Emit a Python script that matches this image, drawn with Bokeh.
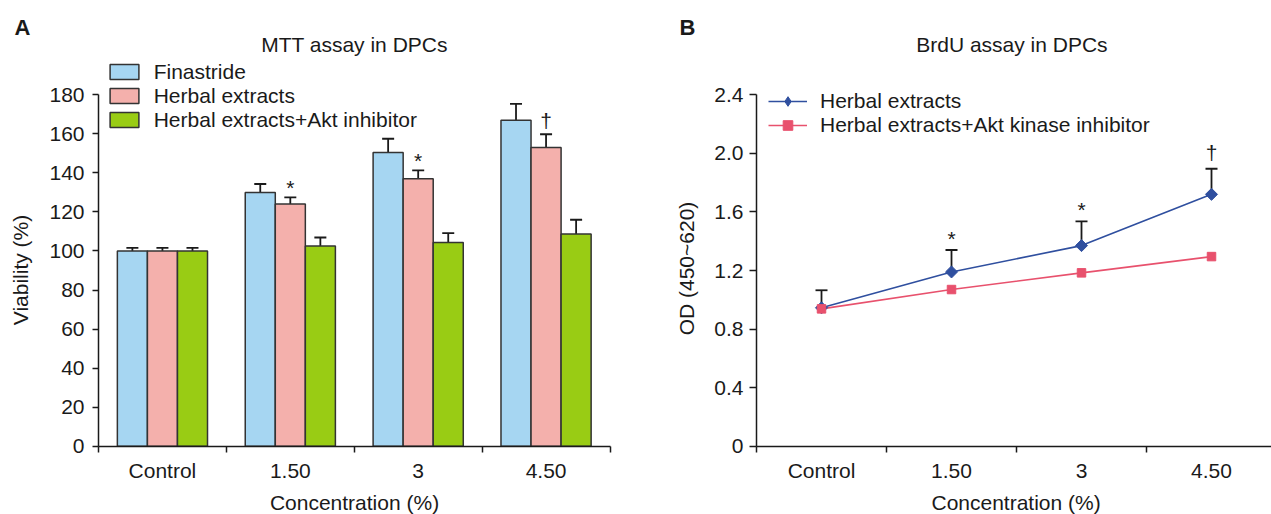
import numpy as np
from bokeh.plotting import figure
from bokeh.models import Range1d, FixedTicker, Label, Legend, LegendItem
from bokeh.layouts import row
from bokeh.embed import file_html
from bokeh.resources import INLINE
from bokeh.core.properties import value

# ---------------- data ----------------
categories = ["Control", "1.50", "3", "4.50"]

finastride = [100, 130, 150.5, 167]
finastride_err = [1.6, 4.3, 7.0, 8.4]
herbal = [100, 124, 137, 153]
herbal_err = [1.6, 3.5, 4.3, 6.8]
akt_inhibitor = [100, 102.6, 104.3, 108.7]
akt_inhibitor_err = [1.6, 4.3, 4.8, 7.3]
mtt_marks = ["", "*", "*", "\u2020"]
mtt_ticks = [0, 20, 40, 60, 80, 100, 120, 140, 160, 180]

brdu_herbal = [0.945, 1.19, 1.37, 1.72]
brdu_herbal_err = [0.12, 0.15, 0.165, 0.175]
brdu_akt = [0.938, 1.07, 1.184, 1.295]
brdu_marks = ["", "*", "*", "\u2020"]
od_ticks = [0, 0.4, 0.8, 1.2, 1.6, 2.0, 2.4]
od_tick_labels = ["0", "0.4", "0.8", "1.2", "1.6", "2.0", "2.4"]

# ---------------- style / layout (pixels) ----------------
FONT = "Liberation Sans"
FS = "21px"
INK = "#1a1a1a"
C_FIN = "#a6d6f2"
C_HERB = "#f4b0ac"
C_AKT = "#99cc14"
C_BLUE = "#2f4f9f"
C_RED = "#e8516d"

H = 514
WA, WB = 640, 631
Y0_PX, YTOP_PX = 445.7, 94.3          # pixel rows of axis bottom / top tick
A_X0, A_X4 = 98.0, 609.5              # pixel columns of category bounds 0 and 4 (panel A)
B_X0, B_STEP = 116.0, 130.0           # panel B (canvas-relative)

n = len(categories)
centers = [i + 0.5 for i in range(n)]
bounds = list(range(n + 1))


def make_fig(width, x0_px, step_px, ytop_val):
    sy = (Y0_PX - YTOP_PX) / ytop_val
    xr = Range1d(-x0_px / step_px, (width - x0_px) / step_px)
    yr = Range1d(-(H - Y0_PX) / sy, Y0_PX / sy)
    p = figure(width=width, height=H, x_range=xr, y_range=yr,
               output_backend="svg", toolbar_location=None,
               outline_line_color=None, min_border=0)
    p.xgrid.visible = False
    p.ygrid.visible = False
    fx = lambda px: (px - x0_px) / step_px
    fy = lambda py: (Y0_PX - py) / sy
    return p, fx, fy


def style_axes(p, yticks, ytop, xend, ytick_standoff, ytick_out):
    for ax in p.axis:
        ax.axis_line_color = INK
        ax.axis_line_width = 1.5
        ax.major_tick_line_color = INK
        ax.major_tick_line_width = 1.5
        ax.minor_tick_line_color = INK
        ax.minor_tick_line_width = 1.5
        ax.major_label_text_font = FONT
        ax.major_label_text_font_size = FS
        ax.major_label_text_color = INK
    xa = p.xaxis[0]
    xa.fixed_location = 0
    xa.bounds = (0, xend)
    xa.ticker = FixedTicker(ticks=centers, minor_ticks=bounds)
    xa.major_label_overrides = {c: lab for c, lab in zip(centers, categories)}
    xa.major_tick_out = 0
    xa.major_tick_in = 0
    xa.minor_tick_out = 6
    xa.minor_tick_in = 0
    xa.major_label_standoff = 7
    ya = p.yaxis[0]
    ya.fixed_location = 0
    ya.bounds = (0, ytop)
    ya.ticker = FixedTicker(ticks=yticks)
    ya.major_tick_out = ytick_out
    ya.major_tick_in = 0
    ya.minor_tick_out = 0
    ya.minor_tick_in = 0
    ya.major_label_standoff = ytick_standoff


def add_label(p, x, y, text, align="center", size=FS, style="normal", angle=0.0):
    p.add_layout(Label(x=x, y=y, text=text, text_align=align, text_baseline="middle",
                       text_font=FONT, text_font_size=size, text_font_style=style,
                       text_color=INK, angle=angle))


# ---------------- panel A ----------------
pA, ax_, ay_ = make_fig(WA, A_X0, (A_X4 - A_X0) / 4, mtt_ticks[-1])
style_axes(pA, mtt_ticks, mtt_ticks[-1], n, 8, 6)

bw = 0.235
series = [
    (finastride, finastride_err, C_FIN, "Finastride"),
    (herbal, herbal_err, C_HERB, "Herbal extracts"),
    (akt_inhibitor, akt_inhibitor_err, C_AKT, "Herbal extracts+Akt inhibitor"),
]
bar_renderers = []
herbal_x = None
for k, (vals, errs, color, name) in enumerate(series):
    xs = [c + (k - 1) * bw for c in centers]
    tops = [v + e for v, e in zip(vals, errs)]
    pA.segment(x0=xs, y0=vals, x1=xs, y1=tops, line_color=INK, line_width=1.8)
    pA.scatter(x=xs, y=tops, marker="dash", size=12, line_color=INK, line_width=1.8)
    r = pA.vbar(x=xs, top=vals, width=bw, bottom=0, fill_color=color,
                line_color="#333333", line_width=1.5)
    bar_renderers.append((name, r))
    if k == 1:
        herbal_x = xs

herb_tops = [v + e for v, e in zip(herbal, herbal_err)]
for mark, yoff in (("*", -10), ("\u2020", -14)):
    xs = [x for x, m in zip(herbal_x, mtt_marks) if m == mark]
    ys = [t for t, m in zip(herb_tops, mtt_marks) if m == mark]
    pA.text(x=xs, y=ys, text=[mark] * len(xs), text_font=value(FONT),
            text_font_size=value(FS), text_align="center", text_baseline="alphabetic",
            text_color=INK, y_offset=yoff)

legA = Legend(items=[LegendItem(label=nm, renderers=[r]) for nm, r in bar_renderers],
              location=(105.7, H - 131.8), glyph_width=36, glyph_height=19,
              label_standoff=12, padding=0, margin=0, spacing=0,
              border_line_color=None, background_fill_alpha=0,
              label_text_font=FONT, label_text_font_size=FS, label_text_color=INK)
pA.add_layout(legA)

add_label(pA, ax_(14), ay_(27), "A", align="left", size="22px", style="bold")
add_label(pA, ax_(354), ay_(44), "MTT assay in DPCs")
add_label(pA, ax_(354), ay_(502), "Concentration (%)")
add_label(pA, ax_(19.5), ay_(269.5), "Viability (%)", angle=np.pi / 2)

# ---------------- panel B ----------------
pB, bx_, by_ = make_fig(WB, B_X0, B_STEP, od_ticks[-1])
style_axes(pB, od_ticks, od_ticks[-1], (WB - B_X0) / B_STEP, 6, 7)
pB.yaxis[0].major_label_overrides = {t: lab for t, lab in zip(od_ticks, od_tick_labels)}

l1 = pB.line(centers, brdu_herbal, line_color=C_BLUE, line_width=1.6)
l2 = pB.line(centers, brdu_akt, line_color=C_RED, line_width=1.6)
btops = [v + e for v, e in zip(brdu_herbal, brdu_herbal_err)]
pB.segment(x0=centers, y0=brdu_herbal, x1=centers, y1=btops, line_color=INK, line_width=1.8)
pB.scatter(x=centers, y=btops, marker="dash", size=12, line_color=INK, line_width=1.8)
# diamond used for the legend key (hidden under the rotated squares in the plot)
d1 = pB.scatter(centers, brdu_herbal, marker="diamond", size=9,
                fill_color=C_BLUE, line_color=C_BLUE)
s1 = pB.scatter(centers, brdu_herbal, marker="square", angle=np.pi / 4, size=8.5,
                fill_color=C_BLUE, line_color=C_BLUE)
s2 = pB.scatter(centers, brdu_akt, marker="square", size=8.5,
                fill_color=C_RED, line_color=C_RED)

for mark, yoff in (("*", -12), ("\u2020", -16)):
    xs = [x for x, m in zip(centers, brdu_marks) if m == mark]
    ys = [t for t, m in zip(btops, brdu_marks) if m == mark]
    pB.text(x=xs, y=ys, text=[mark] * len(xs), text_font=value(FONT),
            text_font_size=value(FS), text_align="center", text_baseline="alphabetic",
            text_color=INK, y_offset=yoff)

legB = Legend(items=[LegendItem(label="Herbal extracts", renderers=[l1, d1]),
                     LegendItem(label="Herbal extracts+Akt kinase inhibitor", renderers=[l2, s2])],
              location=(128, H - 136.5), glyph_width=39, glyph_height=24, label_standoff=13,
              padding=0, margin=0, spacing=0, border_line_color=None,
              background_fill_alpha=0, label_text_font=FONT, label_text_font_size=FS,
              label_text_color=INK)
pB.add_layout(legB)

add_label(pB, bx_(39), by_(27), "B", align="left", size="22px", style="bold")
add_label(pB, bx_(371.4), by_(44), "BrdU assay in DPCs")
add_label(pB, bx_(375.6), by_(502), "Concentration (%)")
add_label(pB, bx_(46), by_(268), "OD (450~620)", angle=np.pi / 2)

layout = row(pA, pB)
open("out.html", "w").write(file_html(layout, INLINE))
